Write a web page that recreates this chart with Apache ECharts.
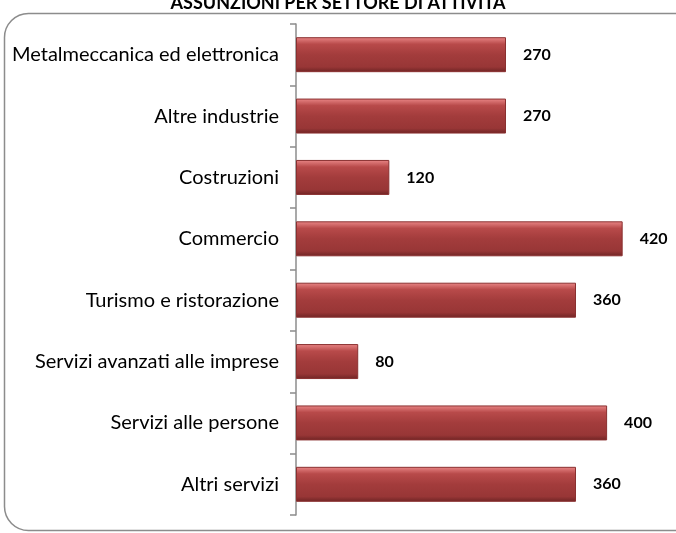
<!DOCTYPE html>
<html>
<head>
<meta charset="utf-8">
<script src="https://cdn.jsdelivr.net/npm/echarts@6/dist/echarts.min.js"></script>
<style>
  html, body { margin: 0; padding: 0; background: #fff; }
  #chart { width: 676px; height: 533px; }
</style>
</head>
<body>
<div id="chart"></div>
<script>
// settori (dall'alto verso il basso)
const categories = [
  'Metalmeccanica ed elettronica',
  'Altre industrie',
  'Costruzioni',
  'Commercio',
  'Turismo e ristorazione',
  'Servizi avanzati alle imprese',
  'Servizi alle persone',
  'Altri servizi'
];
const assunzioni = [270, 270, 120, 420, 360, 80, 400, 360];

const chart = echarts.init(document.getElementById('chart'));

const barColor = new echarts.graphic.LinearGradient(0, 0, 0, 1, [
  { offset: 0, color: '#EA8787' },
  { offset: 0.2, color: '#B84A4A' },
  { offset: 0.5, color: '#A33C3C' },
  { offset: 0.85, color: '#983636' },
  { offset: 1, color: '#6E2424' }
]);

const option = {
  animation: false,
  title: {
    text: 'ASSUNZIONI PER SETTORE DI ATTIVITÀ',
    left: 'center',
    top: -11,
    textStyle: {
      fontFamily: 'Lato',
      fontWeight: 'bold',
      fontSize: 18,
      color: '#000'
    }
  },
  graphic: [
    {
      type: 'rect',
      shape: { x: 4.5, y: 13.5, width: 700, height: 517, r: 24 },
      style: { fill: 'none', stroke: '#8C8C8C', lineWidth: 1.5 },
      z: -1
    }
  ],
  grid: {
    left: 296,
    right: 30,
    top: 24,
    bottom: 18,
    containLabel: false
  },
  xAxis: {
    type: 'value',
    min: 0,
    max: 450,
    show: false
  },
  yAxis: {
    type: 'category',
    data: categories,
    inverse: true,
    axisLine: { lineStyle: { color: '#8C8C8C', width: 1.5 } },
    axisTick: { show: true, length: 6, lineStyle: { color: '#8C8C8C', width: 1.5 } },
    axisLabel: {
      color: '#000',
      fontFamily: 'Lato',
      fontSize: 20,
      margin: 17
    }
  },
  series: [
    {
      type: 'bar',
      data: assunzioni,
      barWidth: '57%',
      itemStyle: {
        color: barColor,
        borderColor: '#8A3030',
        borderWidth: 1
      },
      label: {
        show: true,
        position: 'right',
        distance: 17,
        color: '#000',
        fontFamily: 'Lato',
        fontWeight: 'bold',
        fontSize: 16
      }
    }
  ]
};

chart.setOption(option);
</script>
</body>
</html>
